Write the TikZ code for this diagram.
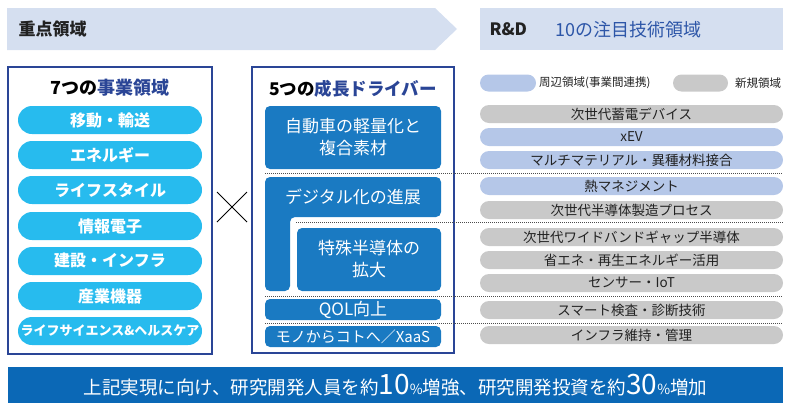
\documentclass[tikz,border=0pt]{standalone}
\usepackage{fontspec}
\setmainfont{Noto Sans CJK JP}
\definecolor{banner}{HTML}{D5DFF0}
\definecolor{navy}{HTML}{2A4596}
\definecolor{hblue}{HTML}{2D56A8}
\definecolor{cyanpill}{HTML}{27BBEE}
\definecolor{drvblue}{HTML}{1A7AC2}
\definecolor{peri}{HTML}{B5C7E8}
\definecolor{graypill}{HTML}{C9C9C9}
\definecolor{botblue}{HTML}{0B68B6}
\definecolor{txt}{HTML}{222222}
\tikzset{
  fs/.style={font=\fontsize{#1}{#1}\selectfont},
  fsb/.style={font=\fontsize{#1}{#1}\selectfont\bfseries},
  pill/.style={fill=cyanpill, rounded corners=14pt, minimum width=184pt, minimum height=28pt,
    inner sep=0pt, text=white, font=\fontsize{16}{18}\selectfont\bfseries},
  drv/.style={fill=drvblue, rounded corners=5pt, inner sep=0pt, text=white, align=center,
    font=\fontsize{17}{22}\selectfont},
  bar/.style={rounded corners=9pt, minimum width=303pt, minimum height=18pt, inner sep=0pt,
    text=txt, font=\fontsize{13.5}{14}\selectfont},
  blubar/.style={bar, fill=peri},
  grybar/.style={bar, fill=graypill},
  dotline/.style={draw=black!70, line width=0.7pt, dash pattern=on 1pt off 1pt},
  frame/.style={draw=navy, line width=1.2pt}
}
\begin{document}
\begin{tikzpicture}[x=1pt,y=-1pt]
\useasboundingbox (0,0) rectangle (792,405);
% header banners
\fill[banner] (7,8) -- (435,8) -- (457,29) -- (435,50) -- (7,50) -- cycle;
\fill[banner] (480,8) rectangle (783,50);
\node[anchor=west, fsb=17, text=txt] (hdrL) at (15,29.5) {重点領域};
\node[anchor=west, fsb=17, text=txt] (hdrRD) at (486,29.5) {R\&D};
\node[anchor=west, fs=18, text=hblue] (hdrR) at (552,29.5) {10の注目技術領域};

% left box
\node[frame, minimum width=204pt, minimum height=287pt, inner sep=0pt] (lbox) at (110,210.5) {};
\node[fsb=18, text=black] (ltitle) at (110,88) {7つの{\color{navy}事業領域}};
\node[pill] (p1) at (110,120) {移動・輸送};
\node[pill] (p2) at (110,155) {エネルギー};
\node[pill] (p3) at (110,190) {ライフスタイル};
\node[pill] (p4) at (110,226) {情報電子};
\node[pill] (p5) at (110,261) {建設・インフラ};
\node[pill] (p6) at (110,296) {産業機器};
\node[pill, font=\fontsize{13}{14}\selectfont\bfseries] (p7) at (110,331) {ライフサイエンス\&ヘルスケア};

% times mark
\coordinate (xa) at (217,192); \coordinate (xb) at (247,222);
\coordinate (xc) at (217,222); \coordinate (xd) at (247,192);
\draw[line width=0.8pt] (xa) -- (xb) (xc) -- (xd);

% middle box
\node[frame, minimum width=202pt, minimum height=286pt, inner sep=0pt] (mbox) at (353,210) {};
\node[fsb=17.5, text=black] (mtitle) at (353,89) {5つの{\color{navy}成長ドライバー}};
\node[drv, minimum width=176pt, minimum height=63pt] (d1) at (353,137.5) {自動車の軽量化と\\複合素材};
\fill[drvblue, rounded corners=5pt] (265,177) -- (441,177) -- (441,217) -- (290,217) -- (290,291) -- (265,291) -- cycle;
\node[text=white, fs=17] (d2) at (353,197) {デジタル化の進展};
\node[drv, minimum width=144pt, minimum height=63pt] (d3) at (369,259.5) {特殊半導体の\\拡大};
\node[drv, minimum width=176pt, minimum height=21pt] (d4) at (353,309.5) {QOL向上};
\node[drv, minimum width=176pt, minimum height=21pt, font=\fontsize{15}{16}\selectfont] (d5) at (353,336.5) {モノからコトへ／XaaS};

% legend
\node[fill=peri, rounded corners=8.5pt, minimum width=56pt, minimum height=17pt, inner sep=0pt] (lg1) at (508,83) {};
\node[anchor=west, fs=11.5, text=txt, inner sep=0pt] (lg1t) at (539,83) {周辺領域(事業間連携)};
\node[fill=graypill, rounded corners=8.5pt, minimum width=55pt, minimum height=17pt, inner sep=0pt] (lg2) at (700.5,83) {};
\node[anchor=west, fs=11.5, text=txt, inner sep=0pt] (lg2t) at (735,83) {新規領域};

% right bars
\node[grybar] (r1) at (631.5,114) {次世代蓄電デバイス};
\node[blubar] (r2) at (631.5,137) {xEV};
\node[blubar] (r3) at (631.5,160) {マルチマテリアル・異種材料接合};
\node[blubar] (r4) at (631.5,186) {熱マネジメント};
\node[grybar] (r5) at (631.5,210) {次世代半導体製造プロセス};
\node[grybar] (r6) at (631.5,237) {次世代ワイドバンドギャップ半導体};
\node[grybar] (r7) at (631.5,260) {省エネ・再生エネルギー活用};
\node[grybar] (r8) at (631.5,283) {センサー・IoT};
\node[grybar] (r9) at (631.5,310) {スマート検査・診断技術};
\node[grybar] (r10) at (631.5,335) {インフラ維持・管理};

% dotted separators
\coordinate (s1a) at (265,173); \coordinate (s1b) at (783,173);
\coordinate (s2a) at (296,222); \coordinate (s2b) at (783,222);
\coordinate (s3a) at (265,296); \coordinate (s3b) at (783,296);
\coordinate (s4a) at (265,323); \coordinate (s4b) at (783,323);
\draw[dotline] (s1a) -- (s1b);
\draw[dotline] (s2a) -- (s2b);
\draw[dotline] (s3a) -- (s3b);
\draw[dotline] (s4a) -- (s4b);

% bottom bar
\fill[botblue] (8,367) rectangle (783,403);
\node[text=white, fs=18.5] (bottom) at (395.5,385) {上記実現に向け、研究開発人員を約{\fontsize{28}{28}\selectfont 10}{\fontsize{14}{14}\selectfont\%}増強、研究開発投資を約{\fontsize{28}{28}\selectfont 30}{\fontsize{14}{14}\selectfont\%}増加};
\end{tikzpicture}
\end{document}
